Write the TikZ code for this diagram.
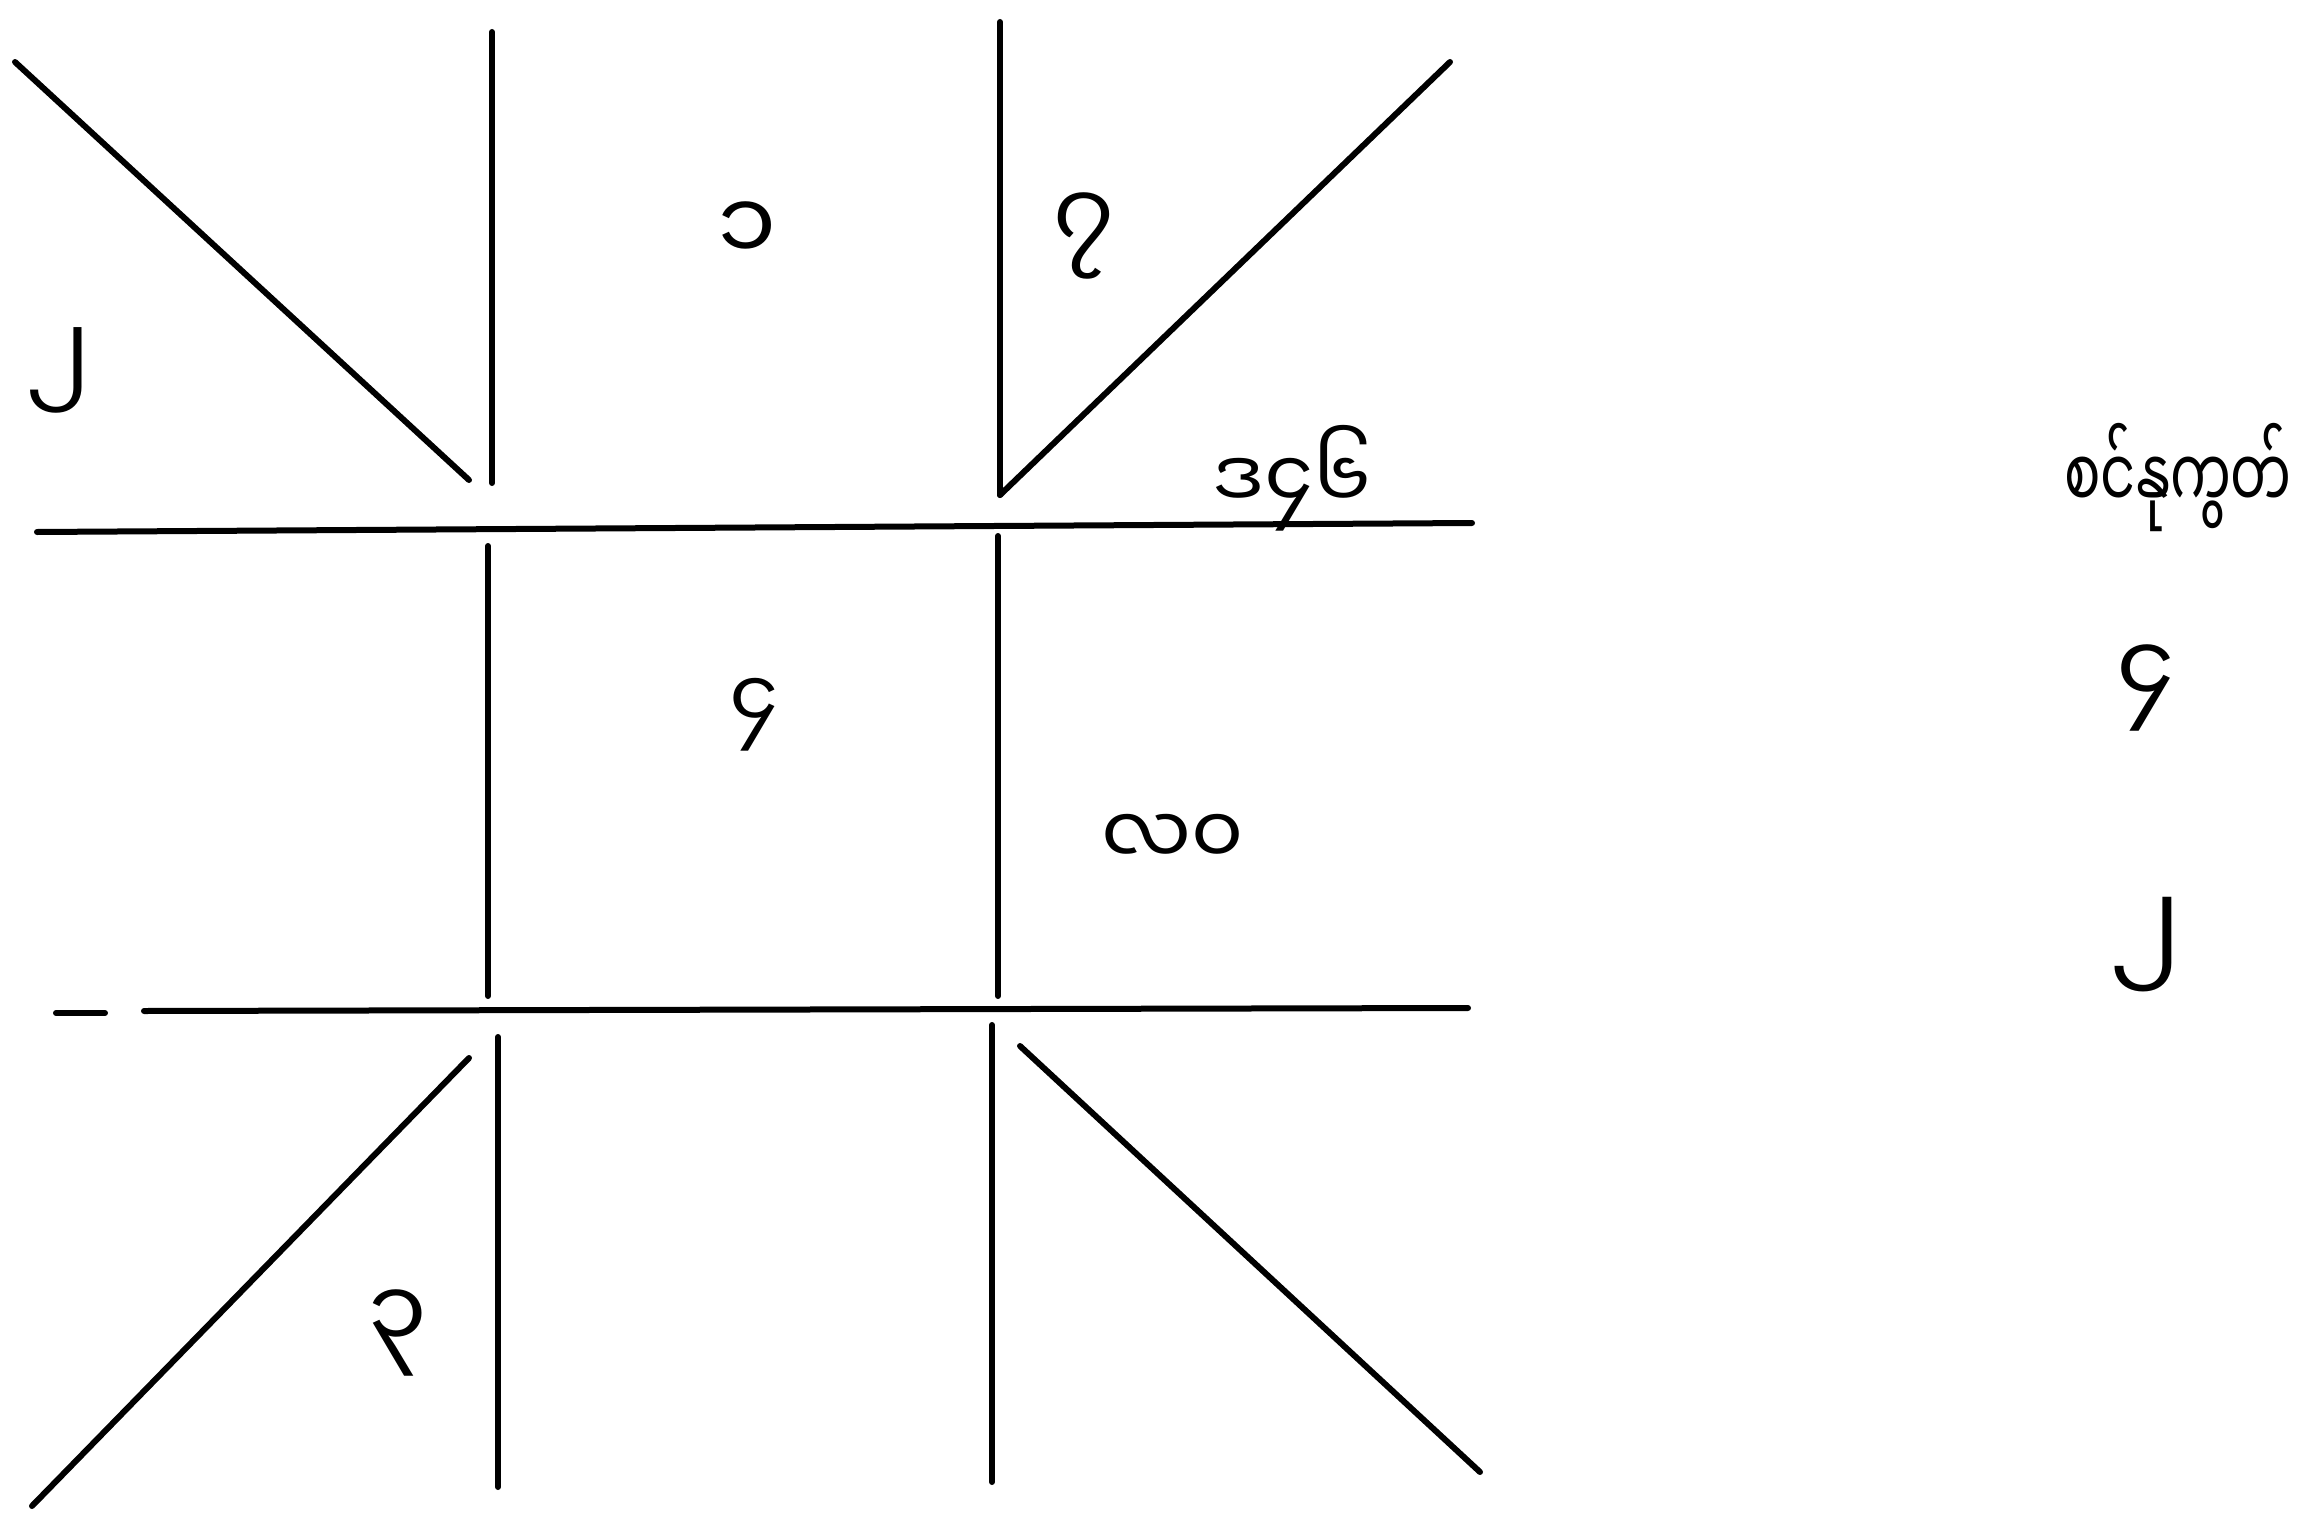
\documentclass[tikz,border=0pt]{standalone}
\usepackage{fontspec}
\newfontfamily\mmfont[Script=Myanmar]{Noto Sans Myanmar UI}
\begin{document}
\begin{tikzpicture}[x=1pt,y=-1pt,
  ln/.style={line width=6pt,line cap=round},
  lbl/.style={font=\mmfont\fontsize{95}{110}\selectfont,inner sep=0pt},
  sml/.style={font=\mmfont\fontsize{80}{95}\selectfont,inner sep=0pt}]
\useasboundingbox[fill=white] (0,0) rectangle (2297,1533);
% top part
\draw[ln] (15,62) -- (469,480);
\draw[ln] (492,32) -- (492,483);
\draw[ln] (1000,22) -- (1000,495);
\draw[ln] (1450,62) -- (1000,495);
% top horizontal
\draw[ln] (37,532) -- (1472,523);
% middle verticals
\draw[ln] (488,546) -- (488,996);
\draw[ln] (998,536) -- (998,996);
% bottom horizontal
\draw[ln] (56,1013) -- (105,1013);
\draw[ln] (144,1011) -- (1468,1008);
% bottom part
\draw[ln] (469,1058) -- (32,1506);
\draw[ln] (498,1037) -- (498,1487);
\draw[ln] (992,1025) -- (992,1482);
\draw[ln] (1020,1046) -- (1480,1472);
% labels
\node[lbl] (l2) at (59,370) {၂};
\node[lbl] (l1) at (747,232) {၁};
\node[lbl] (l7) at (1084,236) {၇};
\node[sml] (lda) at (1292,478) {ဒ၄၆};
\node[sml] (l4) at (754,715) {၄};
\node[sml] (lla) at (1173,840) {လ၀};
\node[lbl] (l3) at (398,1333) {၃};
\node[inner sep=0pt,anchor=east] (word) at (2292,478)
  {\scalebox{0.66}[1]{\mmfont\fontsize{82}{95}\selectfont စင်နုကွတ်}};
\node[lbl] (r4) at (2146,688) {၄};
\node[lbl,font=\mmfont\fontsize{105}{120}\selectfont] (r2) at (2146,945) {၂};
\end{tikzpicture}
\end{document}
